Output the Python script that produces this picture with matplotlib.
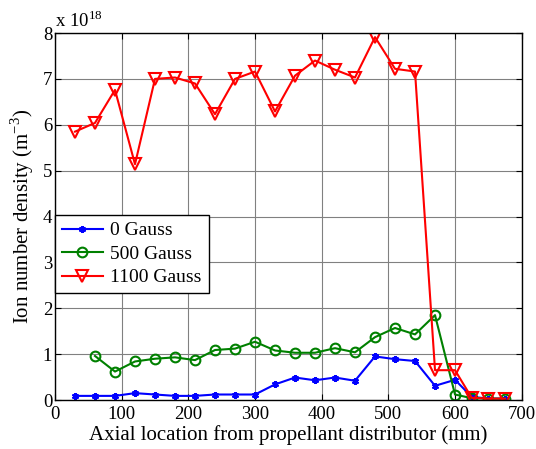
import matplotlib.pyplot as plt

plt.rcParams['font.family'] = ['Liberation Serif', 'DejaVu Serif']
plt.rcParams['mathtext.fontset'] = 'custom'
plt.rcParams['mathtext.rm'] = 'Liberation Serif'

# axial positions (mm)
x_0g = [30, 60, 90, 120, 150, 180, 210, 240, 270, 300, 330, 360, 390, 420, 450, 480, 510, 540, 570, 600, 625, 650, 675]
x_500g = [60, 90, 120, 150, 180, 210, 240, 270, 300, 330, 360, 390, 420, 450, 480, 510, 540, 570, 600, 625, 650, 675]
x_1100g = [30, 60, 90, 120, 150, 180, 210, 240, 270, 300, 330, 360, 390, 420, 450, 480, 510, 540, 570, 600, 625, 650, 675]

# ion density, units of 1e18 m^-3
n_0g = [0.09, 0.09, 0.09, 0.15, 0.12, 0.09, 0.09, 0.12, 0.12, 0.12, 0.34, 0.49, 0.43, 0.49, 0.42, 0.95, 0.89, 0.85, 0.31, 0.44, 0.07, 0.03, 0.03]
n_500g = [0.96, 0.62, 0.84, 0.90, 0.93, 0.87, 1.09, 1.12, 1.27, 1.08, 1.03, 1.03, 1.13, 1.04, 1.37, 1.57, 1.43, 1.85, 0.12, 0.04, 0.03, 0.03]
n_1100g = [5.85, 6.04, 6.76, 5.14, 7.00, 7.03, 6.90, 6.23, 7.00, 7.16, 6.29, 7.07, 7.40, 7.20, 7.03, 7.91, 7.22, 7.16, 0.65, 0.65, 0.05, 0.03, 0.03]

fig = plt.figure(figsize=(5.36, 4.49), dpi=100)
ax = fig.add_axes([0.1026, 0.1091, 0.8707, 0.8174])

ax.plot(x_0g, n_0g, '-', marker=(6, 2, 0), color='blue', lw=1.5, ms=5, mew=1.5, label='0 Gauss')
ax.plot(x_500g, n_500g, '-o', color='green', lw=1.5, ms=7, mew=1.5, mfc='none', label='500 Gauss')
ax.plot(x_1100g, n_1100g, '-v', color='red', lw=1.5, ms=9, mew=1.5, mfc='none', label='1100 Gauss')

ax.set_xlim(0, 700)
ax.set_ylim(0, 8)
ax.set_xticks(range(0, 701, 100))
ax.set_yticks(range(0, 9))
ax.grid(True, color='#808080', lw=0.8)
ax.tick_params(direction='in', top=True, right=True, labelsize=13.5, length=4)
ax.tick_params(axis='x', pad=4)
ax.tick_params(axis='y', pad=2)
for s in ax.spines.values():
    s.set_linewidth(1.0)

ax.set_xlabel('Axial location from propellant distributor (mm)', fontsize=15, labelpad=2)
ax.set_ylabel('Ion number density (m$^{-3}$)', fontsize=15, labelpad=5)
ax.text(0.0, 1.005, r'x 10$^{18}$', transform=ax.transAxes, fontsize=13.5, ha='left', va='bottom')

leg = ax.legend(loc='upper left', bbox_to_anchor=(0.0, 0.504), fontsize=14, fancybox=False,
                edgecolor='black', framealpha=1, borderaxespad=0.0, handlelength=2.1,
                labelspacing=0.3, borderpad=0.35, handletextpad=0.4)
leg.get_frame().set_linewidth(1.0)

fig.savefig('out.png', dpi=100)
